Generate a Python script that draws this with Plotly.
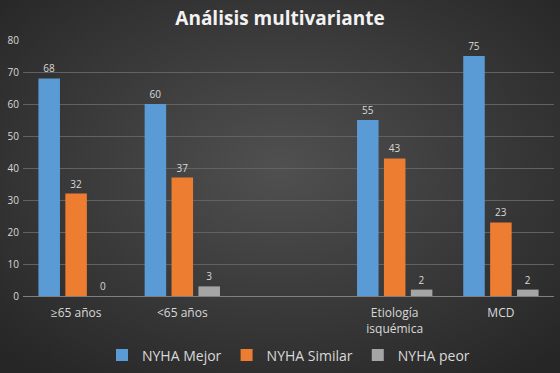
import base64
import plotly.graph_objects as go

categories = ["≥65 años", "<65 años", " ", "Etiología<br>isquémica", "MCD"]
mejor = [68, 60, None, 55, 75]
similar = [32, 37, None, 43, 23]
peor = [0, 3, None, 2, 2]
series_names = ["NYHA Mejor", "NYHA Similar", "NYHA peor"]
colors = ["#5B9BD5", "#ED7D31", "#A5A5A5"]
y_ticks = [0, 10, 20, 30, 40, 50, 60, 70, 80]

W, H = 560, 373
ML, MR, MT, MB = 23, 6, 40, 77
PW, PH = W - ML - MR, H - MT - MB

svg = (
    '<svg xmlns="http://www.w3.org/2000/svg" width="560" height="373" preserveAspectRatio="none">'
    '<defs><radialGradient id="g" cx="50%" cy="45%" r="70%">'
    '<stop offset="0%" stop-color="#505050"/><stop offset="100%" stop-color="#262626"/>'
    '</radialGradient></defs><rect width="560" height="373" fill="url(#g)"/></svg>'
)
bg_src = "data:image/svg+xml;base64," + base64.b64encode(svg.encode()).decode()

font_family = "Open Sans, Liberation Sans, sans-serif"
fig = go.Figure()
for name, vals, col in zip(series_names, [mejor, similar, peor], colors):
    fig.add_trace(go.Bar(
        x=categories, y=vals, name=name,
        marker=dict(color=col, line=dict(width=0)),
        text=[("" if v is None else str(v)) for v in vals],
        textposition="outside", cliponaxis=False,
        textfont=dict(color="#d9d9d9", size=10, family=font_family),
    ))

fig.update_layout(
    width=W, height=H,
    paper_bgcolor="#3a3a3a", plot_bgcolor="rgba(0,0,0,0)",
    margin=dict(l=ML, r=MR, t=MT, b=MB, autoexpand=False),
    barmode="group", bargap=0.24, bargroupgap=0.2,
    images=[dict(source=bg_src, xref="paper", yref="paper",
                 x=-ML / PW, y=1 + MT / PH, sizex=W / PW, sizey=H / PH,
                 xanchor="left", yanchor="top", sizing="stretch", layer="below")],
    title=dict(text="<b>Análisis multivariante</b>", x=0.5, xanchor="center", y=0.95, yanchor="middle",
               font=dict(color="#f2f2f2", size=19, family=font_family)),
    font=dict(family=font_family, color="#d9d9d9"),
    xaxis=dict(type="category", showgrid=False, showline=True, linecolor="#808080", linewidth=1,
               tickfont=dict(size=12, color="#d9d9d9"), ticks="", ticklabelstandoff=6,
               automargin=False),
    yaxis=dict(range=[0, 80], tickvals=y_ticks, showgrid=True, gridcolor="#626262", gridwidth=1,
               zeroline=False, tickfont=dict(size=10, color="#d9d9d9"), ticks="", ticklabelstandoff=3,
               automargin=False),
    legend=dict(orientation="h", x=0.5, xanchor="center", y=-0.17, yanchor="top",
                bgcolor="rgba(0,0,0,0)",
                font=dict(size=14, color="#d9d9d9"), itemwidth=30, tracegroupgap=0),
)
fig.write_html("out.html", config={"displayModeBar": False},
               post_script="document.body.style.margin='0';document.body.style.overflow='hidden';")
